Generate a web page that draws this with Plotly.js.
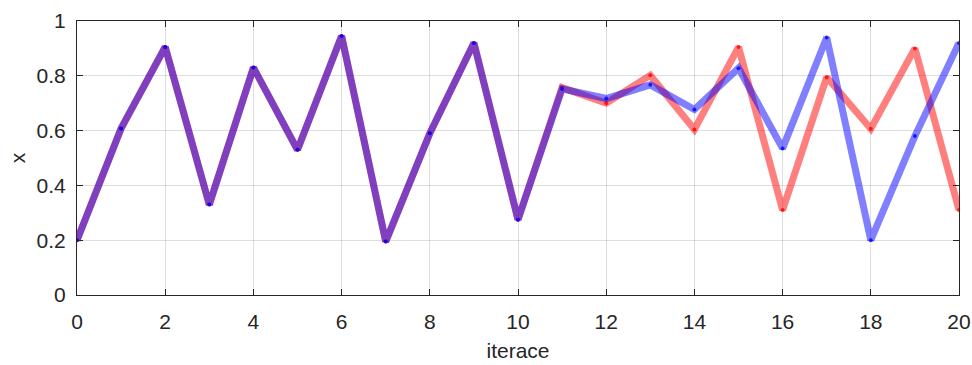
<!DOCTYPE html>
<html>
<head>
<meta charset="utf-8">
<script src="https://cdn.plot.ly/plotly-3.0.1.min.js"></script>
<style>html,body{margin:0;padding:0;background:#fff}#chart{width:972px;height:365px}</style>
</head>
<body>
<div id="chart"></div>
<script>
const iterations = [0,1,2,3,4,5,6,7,8,9,10,11,12,13,14,15,16,17,18,19,20];
const seriesRed  = [0.20,0.608,0.905,0.33,0.83,0.53,0.945,0.195,0.59,0.92,0.275,0.757,0.70,0.802,0.604,0.905,0.31,0.795,0.607,0.90,0.31];
const seriesBlue = [0.20,0.608,0.905,0.33,0.83,0.53,0.945,0.195,0.59,0.92,0.275,0.752,0.717,0.767,0.677,0.828,0.535,0.94,0.20,0.58,0.92];
const xTicks = [0,2,4,6,8,10,12,14,16,18,20];
const yTicks = [0,0.2,0.4,0.6,0.8,1];

const font = {family: 'Liberation Sans, Arial, sans-serif', size: 21, color: '#262626'};
function trace(y, rgb) {
  return {
    x: iterations, y: y, type: 'scatter', mode: 'lines+markers',
    line: {color: 'rgba(' + rgb + ',0.5)', width: 7},
    marker: {color: 'rgba(' + rgb + ',0.8)', size: 4},
    hoverinfo: 'skip'
  };
}
const axisCommon = {
  showline: true, linecolor: '#262626', linewidth: 1, mirror: 'ticks',
  ticks: 'inside', ticklen: 6, tickcolor: '#262626',
  showgrid: true, gridcolor: 'rgba(0,0,0,0.13)', gridwidth: 1,
  zeroline: false, tickfont: font
};
const layout = {
  width: 972, height: 365,
  margin: {l: 77, r: 13, t: 21, b: 70},
  paper_bgcolor: '#fff', plot_bgcolor: '#fff',
  showlegend: false, font: font,
  xaxis: Object.assign({}, axisCommon, {
    range: [0, 20], tickvals: xTicks, ticktext: xTicks.map(String),
    ticklabelstandoff: 8,
    title: {text: 'iterace', font: font, standoff: 11}
  }),
  yaxis: Object.assign({}, axisCommon, {
    range: [0, 1], tickvals: yTicks, ticktext: yTicks.map(String),
    ticklabelstandoff: 6,
    title: {text: 'x', font: font, standoff: 5}
  })
};
Plotly.newPlot('chart', [trace(seriesRed, '255,0,0'), trace(seriesBlue, '0,0,255')], layout, {staticPlot: true});
</script>
</body>
</html>
